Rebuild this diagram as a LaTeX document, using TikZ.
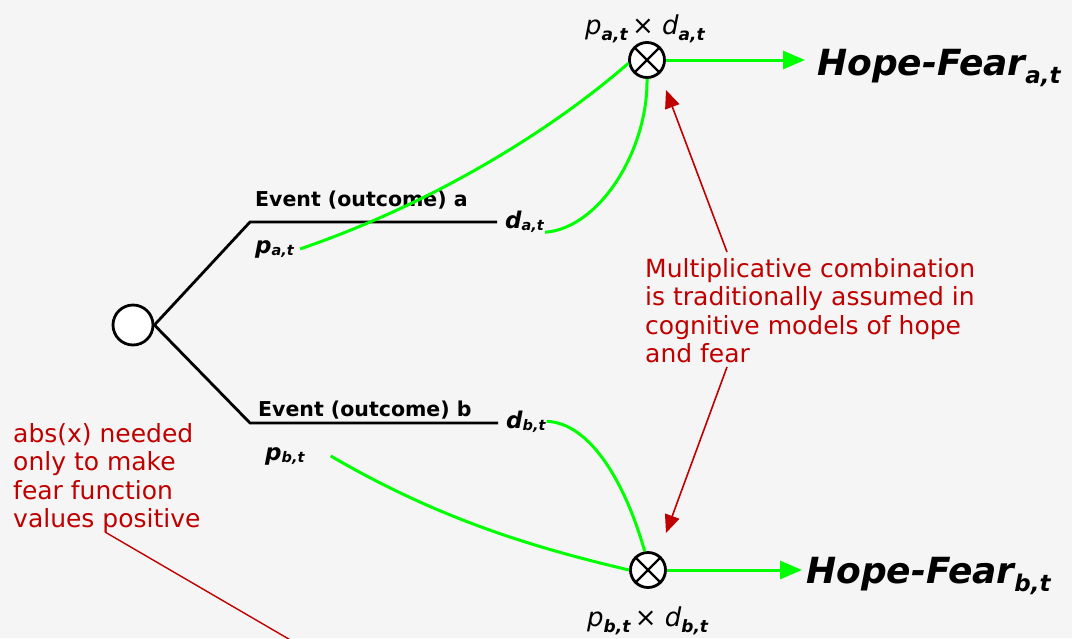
\documentclass[tikz,border=0pt]{standalone}
\usepackage{fontspec}
\setmainfont{DejaVu Sans}[ItalicFont={DejaVu Sans Oblique},BoldFont={DejaVu Sans Bold},BoldItalicFont={DejaVu Sans Bold Oblique}]
\usetikzlibrary{arrows.meta}
\definecolor{bgc}{HTML}{F5F5F5}
\definecolor{grn}{HTML}{00FF00}
\definecolor{rd}{HTML}{C00000}
\newcommand{\fs}[1]{\fontsize{#1}{#1}\selectfont}
\newcommand{\lowsub}[3]{\raisebox{-#1}{\fs{#2}#3}}
\begin{document}
\begin{tikzpicture}[x=1pt,y=-1pt,
  lbl/.style={inner sep=0pt, anchor=base west},
  tree/.style={line width=2.8pt, black, line join=miter},
  gl/.style={line width=3pt, grn},
  garrow/.style={gl, -{Triangle[length=22pt,width=18pt]}},
  rarrow/.style={rd, line width=1.6pt, -{Triangle[length=18pt,width=15pt]}},
  otim/.style={circle, draw, line width=2.8pt, fill=white, minimum size=35pt, inner sep=0pt},
  note/.style={rd, align=left, inner sep=0pt, anchor=north west, font=\fontsize{25}{28.5}\selectfont},
  evt/.style={lbl, font=\fs{20.5}\bfseries},
  var/.style={lbl, font=\fs{23}\bfseries\itshape},
  prod/.style={lbl, font=\fs{26}\itshape},
  hf/.style={lbl, font=\fs{36}\bfseries\itshape}
]
\useasboundingbox (0,0) rectangle (1072,638);
\fill[bgc] (0,0) rectangle (1072,638);

% decision tree
\node[circle, draw, line width=2.8pt, fill=white, minimum size=40pt, inner sep=0pt] (root) at (133,325) {};
\coordinate (ka) at (250,222);
\coordinate (kb) at (250,423);
\node[var] (da) at (505,228) {d\lowsub{2pt}{14.5}{a,t}};
\node[var] (db) at (506,428) {d\lowsub{2pt}{14.5}{b,t}};
\node[var] (pa) at (255,253) {p\lowsub{2pt}{14.5}{a,t}};
\node[var] (pb) at (265,460) {p\lowsub{2pt}{14.5}{b,t}};
\coordinate (ea) at (497,222);
\coordinate (eb) at (498,423);
\draw[tree] (root.east) -- (ka) -- (ea);
\draw[tree] (root.east) -- (kb) -- (eb);
\node[evt] (eva) at (255,206) {Event (outcome) a};
\node[evt] (evb) at (258,416) {Event (outcome) b};

% multipliers
\node[otim] (ota) at (647,60) {};
\node[otim] (otb) at (648,570) {};
\foreach \o in {ota,otb}{
  \draw[line width=2.4pt] (\o.north east) -- (\o.south west);
  \draw[line width=2.4pt] (\o.north west) -- (\o.south east);
}
\node[prod] (la) at (585,34) {p\lowsub{6pt}{17}{\bfseries a,t}\,{\upshape ×} d\lowsub{6pt}{17}{\bfseries a,t}};
\node[prod] (lb) at (587,626) {p\lowsub{6pt}{17}{\bfseries b,t}\,{\upshape ×} d\lowsub{6pt}{17}{\bfseries b,t}};

% outputs
\node[hf] (hfa) at (817,75) {Hope-Fear\lowsub{8pt}{23}{a,t}};
\node[hf] (hfb) at (806,583) {Hope-Fear\lowsub{8pt}{23}{b,t}};
\draw[garrow] (ota.east) -- ([xshift=-12pt]ota.east -| hfa.west);
\draw[garrow] (otb.east) -- ([xshift=-4pt]otb.east -| hfb.west);

% green curves
\draw[gl] ([xshift=6pt]pa.east) .. controls (420,208) and (540,140) .. (ota.190);
\draw[gl] ([xshift=1pt]da.south east) .. controls (600,228) and (648,150) .. (ota.south);
\draw[gl] ([xshift=1pt]db.east) .. controls (590,423) and (625,482) .. (otb.100);
\draw[gl] ([xshift=26pt]pb.east) .. controls (437,518) and (531,547) .. (otb.west);

% notes
\node[note] (mult) at (645,258) {Multiplicative combination\\is traditionally assumed in\\cognitive models of hope\\and fear};
\node[note] (absn) at (13,423) {abs(x) needed\\only to make\\fear function\\values positive};
\coordinate (ma) at (727,252);
\coordinate (mb) at (727,367);
\coordinate (ta) at (666,90);
\coordinate (tb) at (666,533);
\draw[rarrow] (ma) -- (ta);
\draw[rarrow] (mb) -- (tb);
\coordinate (an) at (105,532);
\coordinate (ae) at (299,645);
\draw[rd, line width=1.4pt] (an) -- (ae);
\end{tikzpicture}
\end{document}
